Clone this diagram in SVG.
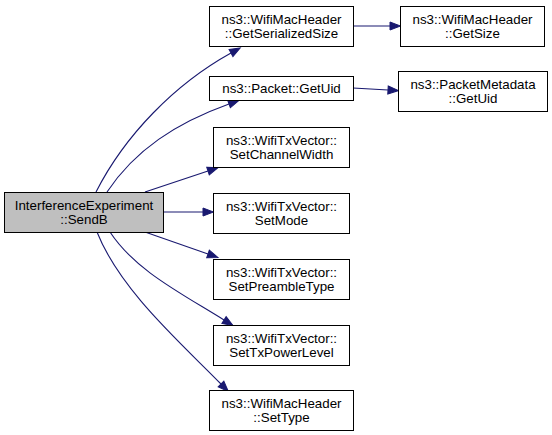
<svg xmlns="http://www.w3.org/2000/svg" width="552" height="435" viewBox="0 0 552 435">
<defs>
<marker id="arr" markerUnits="userSpaceOnUse" markerWidth="12" markerHeight="10" refX="0" refY="4" orient="auto" overflow="visible">
<path d="M0,0 L10.5,4 L0,8 Z" fill="#191970" stroke="#191970" stroke-width="1"/>
</marker>
</defs>
<style>
.n rect{fill:#ffffff;stroke:#000000;stroke-width:1}
.root rect{fill:#bfbfbf}
text{font-family:"Liberation Sans",Arial,sans-serif;font-size:13.33px;fill:#000000;text-anchor:middle}
.e path{fill:none;stroke:#191970;stroke-width:1.1;marker-end:url(#arr)}
</style>
<rect width="552" height="435" fill="#ffffff"/>
<g id="connectors" class="e">
<path d="M96,192 C125,135 175,84 231,53"/>
<path d="M107,192 C135,150 176,123 229,104"/>
<path d="M145,192 L208,171"/>
<path d="M163,212 L203,212"/>
<path d="M145,232 L208,254"/>
<path d="M110,232 C135,270 179,292 224,320"/>
<path d="M97,232 C120,290 181,343 221,384"/>
<path d="M353,26 L390,26"/>
<path d="M353,88 L388,90"/>
</g>
<g id="SendB" class="n root"><rect x="4.5" y="192.5" width="159" height="40"/><text x="84" y="210">InterferenceExperiment</text><text x="84" y="224">::SendB</text></g>
<g id="GetSerializedSize" class="n"><rect x="209.5" y="6.5" width="144" height="40"/><text x="281.5" y="24">ns3::WifiMacHeader</text><text x="281.5" y="38">::GetSerializedSize</text></g>
<g id="GetUid" class="n"><rect x="209.5" y="76.5" width="144" height="24"/><text x="281.5" y="93">ns3::Packet::GetUid</text></g>
<g id="SetChannelWidth" class="n"><rect x="213.5" y="127.5" width="136" height="40"/><text x="281.5" y="145">ns3::WifiTxVector::</text><text x="281.5" y="159">SetChannelWidth</text></g>
<g id="SetMode" class="n"><rect x="213.5" y="193.5" width="136" height="40"/><text x="281.5" y="211">ns3::WifiTxVector::</text><text x="281.5" y="225">SetMode</text></g>
<g id="SetPreambleType" class="n"><rect x="213.5" y="259.5" width="136" height="40"/><text x="281.5" y="277">ns3::WifiTxVector::</text><text x="281.5" y="291">SetPreambleType</text></g>
<g id="SetTxPowerLevel" class="n"><rect x="213.5" y="325.5" width="136" height="40"/><text x="281.5" y="343">ns3::WifiTxVector::</text><text x="281.5" y="357">SetTxPowerLevel</text></g>
<g id="SetType" class="n"><rect x="209.5" y="390.5" width="144" height="40"/><text x="281.5" y="408">ns3::WifiMacHeader</text><text x="281.5" y="422">::SetType</text></g>
<g id="GetSize" class="n"><rect x="400.5" y="6.5" width="144" height="40"/><text x="472.5" y="24">ns3::WifiMacHeader</text><text x="472.5" y="38">::GetSize</text></g>
<g id="PacketMetadataGetUid" class="n"><rect x="398.5" y="71.5" width="149" height="40"/><text x="473" y="89">ns3::PacketMetadata</text><text x="473" y="103">::GetUid</text></g>
</svg>
